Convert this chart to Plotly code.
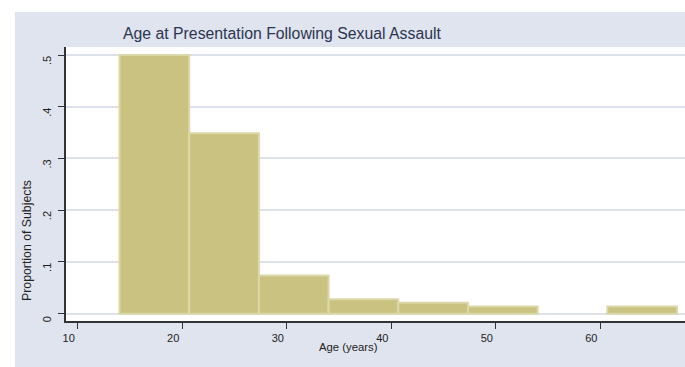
import plotly.graph_objects as go

# Histogram of age at presentation (fraction of subjects per bin)
bin_start = 14.0
bin_width = 6.667
proportions = [0.500, 0.349, 0.074, 0.028, 0.021, 0.014, 0.0, 0.014]
x_ticks = [10, 20, 30, 40, 50, 60]
y_ticks = [0, 0.1, 0.2, 0.3, 0.4, 0.5]
y_tick_text = ["0", ".1", ".2", ".3", ".4", ".5"]

title_text = "Age at Presentation Following Sexual Assault"
x_title = "Age (years)"
y_title = "Proportion of Subjects"

centers = [bin_start + bin_width * (i + 0.5) for i in range(len(proportions))]
# empty bins get no outline
outline_widths = [2 if p > 0 else 0 for p in proportions]

W, H = 685, 367
L, R, T, B = 66, 0, 47, 46
pw, ph = W - L - R, H - T - B


def px(x):
    return (x - L) / pw


def py(y):
    return (H - B - y) / ph


panel = "#E0E4EE"
grid = "#DCE1EC"
font = "Liberation Sans, Arial, sans-serif"

fig = go.Figure(
    go.Bar(
        x=centers,
        y=proportions,
        width=bin_width,
        marker=dict(color="#C9C280", line=dict(color="#DCD7A6", width=outline_widths)),
        hoverinfo="x+y",
    )
)

fig.update_layout(
    width=W,
    height=H,
    autosize=False,
    margin=dict(l=L, r=R, t=T, b=B, pad=0),
    paper_bgcolor=panel,
    plot_bgcolor="white",
    showlegend=False,
    font=dict(family=font, size=11, color="#222222"),
    xaxis=dict(
        range=[8.881, 68.10],
        tickvals=x_ticks,
        ticks="outside",
        ticklen=6,
        tickwidth=1.2,
        tickcolor="#333333",
        showgrid=False,
        zeroline=False,
        showline=True,
        linecolor="#333333",
        linewidth=1.6,
        ticklabelshift=-9,
        ticklabelstandoff=0,
        tickfont=dict(size=11),
    ),
    yaxis=dict(
        range=[-0.0141, 0.5155],
        tickvals=y_ticks,
        ticktext=y_tick_text,
        tickangle=-90,
        ticks="outside",
        ticklen=6,
        tickwidth=1.2,
        tickcolor="#333333",
        showgrid=True,
        gridcolor=grid,
        gridwidth=2,
        zeroline=False,
        showline=True,
        linecolor="#333333",
        linewidth=1.6,
        ticklabelshift=7,
        ticklabelstandoff=3,
        tickfont=dict(size=11),
    ),
    shapes=[
        # white border outside the grey graph region (left and top)
        dict(type="rect", xref="paper", yref="paper", x0=px(0), x1=px(15),
             y0=py(H + 5), y1=py(-5), fillcolor="white", line=dict(width=0), layer="below"),
        dict(type="rect", xref="paper", yref="paper", x0=px(0), x1=px(W + 5),
             y0=py(12), y1=py(-5), fillcolor="white", line=dict(width=0), layer="below"),
    ],
    annotations=[
        dict(text=title_text, xref="paper", yref="paper", x=px(121), y=py(34),
             xanchor="left", yanchor="middle", showarrow=False,
             font=dict(size=15.8, color="#2B3452")),
        dict(text=y_title, xref="paper", yref="paper", x=px(27), y=py(240),
             xanchor="center", yanchor="middle", textangle=-90, showarrow=False,
             font=dict(size=12.3, color="#222222")),
        dict(text=x_title, xref="paper", yref="paper", x=px(348), y=py(347),
             xanchor="center", yanchor="middle", showarrow=False,
             font=dict(size=11.3, color="#222222")),
    ],
)

fig.write_html("out.html")
